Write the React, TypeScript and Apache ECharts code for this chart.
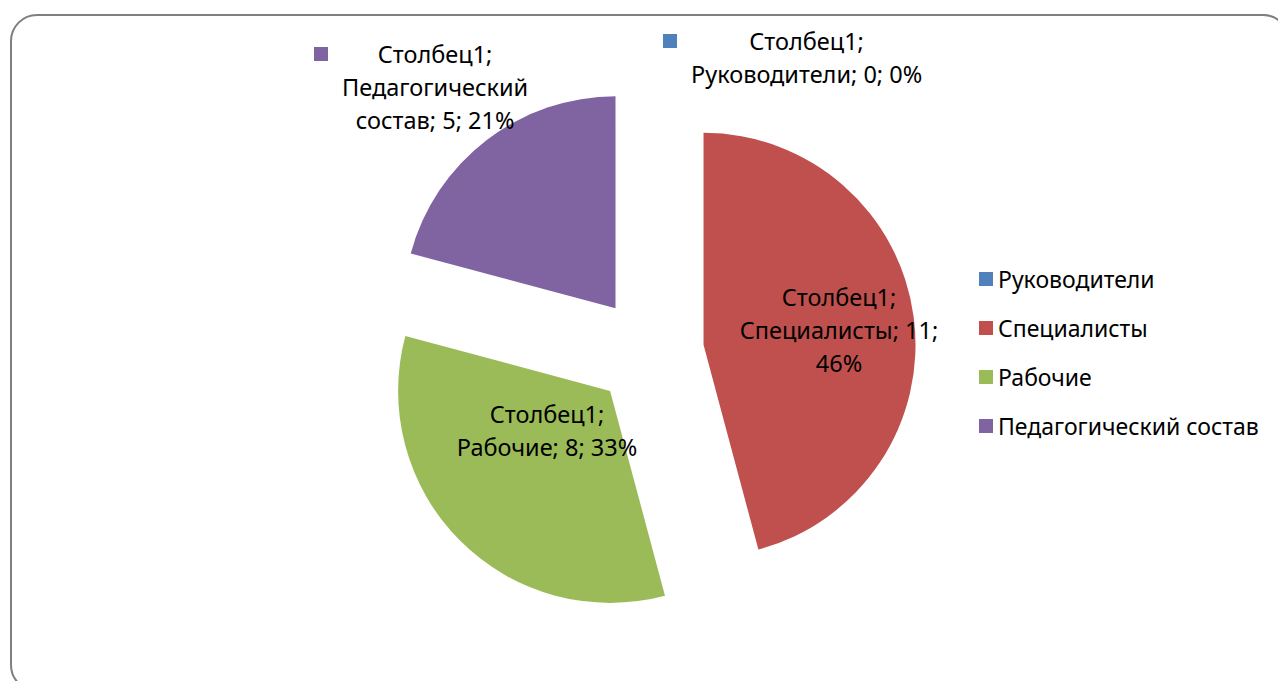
import React, { useEffect, useRef } from "react";
import * as echarts from "echarts";

const seriesName = "Столбец1";
const categories = ["Руководители", "Специалисты", "Рабочие", "Педагогический состав"];
const values = [0, 11, 8, 5];
const colors = ["#4F81BD", "#C0504D", "#9BBB59", "#8064A2"];

// how each label's text is wrapped (layout, not data)
const wrapMode = ["name", "pct", "none", "name"];
const outsideKey = [true, false, false, true];
const labelPlace = [
  { x: 663, y: 24.5, align: "left" },
  { x: 839, y: 280.5, align: "center" },
  { x: 547, y: 397.5, align: "center" },
  { x: 314, y: 37.5, align: "left" },
];

export default function App() {
  const ref = useRef<HTMLDivElement>(null);
  useEffect(() => {
    document.body.style.margin = "0";
    const chart = echarts.init(ref.current!, null, { renderer: "svg" });
    const font = "'Noto Sans', sans-serif";
    const fs = 23.5;
    const rich: any = {
      t: { fontSize: fs, lineHeight: 33, fontFamily: font, color: "#000", align: "center" },
      gp: { width: 14, height: 14, lineHeight: 33, align: "left" },
      sp: { width: 28, height: 14, lineHeight: 33, align: "left" },
    };
    colors.forEach((c, i) => {
      rich["sq" + i] = { width: 14, height: 14, backgroundColor: c, align: "left" };
    });
    const pieData = categories.map((name, i) => ({ name, value: values[i] }));

    const option: any = {
      animation: false,
      color: colors,
      graphic: [
        {
          type: "rect",
          z: -10,
          shape: { x: 11, y: 15, width: 1278, height: 676, r: 26 },
          style: { fill: "none", stroke: "#7f7f7f", lineWidth: 2 },
        },
      ],
      legend: {
        orient: "vertical",
        left: 979,
        top: 267.5,
        padding: 0,
        itemWidth: 14,
        itemHeight: 14,
        itemGap: 26,
        icon: "rect",
        data: categories,
        textStyle: { fontSize: 23, lineHeight: 23, fontFamily: font, color: "#000" },
      },
      series: [
        {
          type: "pie",
          name: seriesName,
          z: 2,
          center: [649, 352],
          radius: 212,
          startAngle: 90,
          clockwise: true,
          selectedMode: "multiple",
          selectedOffset: 55,
          emphasis: { scale: false },
          label: { show: false },
          labelLine: { show: false },
          data: pieData.map((d) => ({ ...d, selected: true })),
        },
        {
          type: "pie",
          name: seriesName,
          z: 10,
          silent: true,
          center: [649, 352],
          radius: 212,
          startAngle: 90,
          clockwise: true,
          percentPrecision: 0,
          avoidLabelOverlap: false,
          itemStyle: { color: "rgba(0,0,0,0)" },
          emphasis: { disabled: true },
          labelLine: { show: false },
          label: {
            show: true,
            position: "inside",
            fontSize: fs,
            lineHeight: 33,
            fontFamily: font,
            color: "#000",
            align: "center",
            rich,
            formatter: (p: any) => {
              const i = p.dataIndex;
              const tail = `; ${p.value}; ${p.percent}%`;
              if (outsideKey[i]) {
                const words = String(p.name).split(" ");
                const lines = words.map((w, k) => (k === words.length - 1 ? w + tail : w));
                const first = `{sq${i}|}{gp|}{t|${seriesName};}`;
                return [first, ...lines.map((l) => `{sp|}{t|${l}}`)].join("\n");
              }
              if (wrapMode[i] === "pct") {
                return `${seriesName};\n${p.name}; ${p.value};\n${p.percent}%`;
              }
              return `${seriesName};\n${p.name}${tail}`;
            },
          },
          labelLayout: (params: any) => {
            const pl = labelPlace[params.dataIndex];
            return { x: pl.x, y: pl.y, align: pl.align, verticalAlign: "top" };
          },
          data: pieData,
        },
      ],
    };
    chart.setOption(option);
    return () => chart.dispose();
  }, []);
  return <div ref={ref} style={{ width: 1278, height: 681 }} />;
}
